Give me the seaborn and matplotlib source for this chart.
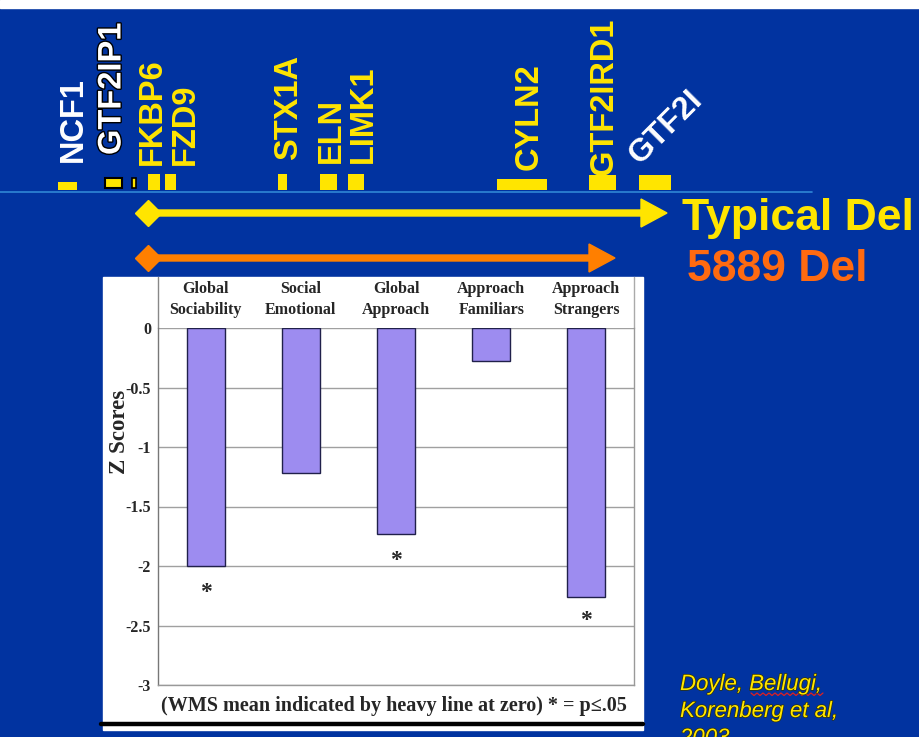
import matplotlib
matplotlib.use("Agg")
import matplotlib.pyplot as plt
import matplotlib.patheffects as pe
from matplotlib.patches import Rectangle
import seaborn as sns
import pandas as pd

# --- bar chart data (WMS z scores) ---
categories = ["Global\nSociability", "Social\nEmotional", "Global\nApproach",
              "Approach\nFamiliars", "Approach\nStrangers"]
z_scores = [-2.00, -1.22, -1.73, -0.28, -2.26]
star_at = [-2.22, None, -1.95, None, -2.46]   # p<=.05 markers
y_ticks = [0, -0.5, -1, -1.5, -2, -2.5, -3]
y_tick_labels = ["0", "-0.5", "-1", "-1.5", "-2", "-2.5", "-3"]

# --- gene map (x in slide pixels) ---
genes = ["NCF1", "GTF2IP1", "FKBP6", "FZD9", "STX1A", "ELN", "LIMK1",
         "CYLN2", "GTF2IRD1", "GTF2I"]
gene_start = [58, 105, 148, 165, 278, 320, 348, 497, 589, 639]
gene_end = [77, 122, 160, 176, 287, 337, 364, 547, 616, 671]
gene_top = [182, 178, 174, 174, 174, 174, 174, 179, 175, 175]
gene_label_x = [73, 112, 152, 185, 289, 331, 363, 529, 604, 645]
gene_label_y = [162, 155, 165, 165, 160, 163, 163, 170, 175, 170]
del_labels = ["Typical Del", "5889 Del"]
del_end = [667, 615]

BLUE = "#0133a0"
YELLOW = "#ffe500"
ORANGE = "#ff7f00"
BAR = "#9d8cf0"

sns.set_theme(style="white")
plt.rcParams["font.family"] = ["Liberation Sans", "DejaVu Sans"]
serif = ["Liberation Serif", "DejaVu Serif"]

fig = plt.figure(figsize=(9.2, 7.37), dpi=100, facecolor=BLUE)

# background / slide layer in pixel coordinates
bg = fig.add_axes([0, 0, 1, 1])
bg.set_xlim(0, 920)
bg.set_ylim(737, 0)
bg.axis("off")
bg.add_patch(Rectangle((0, 0), 920, 8, color="white", zorder=0))

# chromosome line + genes
bg.plot([0, 812], [191.5, 191.5], color="#2f86d6", lw=1.2, zorder=1)
label_cols = ["white", "white"] + [YELLOW] * 7 + ["white"]
for i, g in enumerate(genes):
    if g == "GTF2IP1":
        bg.add_patch(Rectangle((gene_start[i], gene_top[i]), gene_end[i] - gene_start[i],
                               188 - gene_top[i], facecolor=YELLOW, edgecolor="black", lw=1.5, zorder=2))
        bg.add_patch(Rectangle((132, 178), 4, 10, facecolor=YELLOW, edgecolor="black", lw=1.2, zorder=2))
    else:
        bg.add_patch(Rectangle((gene_start[i], gene_top[i]), gene_end[i] - gene_start[i],
                               190 - gene_top[i], color=YELLOW, lw=0, zorder=2))
    if g == "GTF2I":
        bg.text(gene_label_x[i], gene_label_y[i], g, rotation=45, rotation_mode="anchor",
                ha="left", va="bottom", color="white", fontsize=23, fontweight="bold")
    else:
        t = bg.text(gene_label_x[i], gene_label_y[i], g, rotation=90, ha="center", va="bottom",
                    color=label_cols[i], fontsize=23.5, fontweight="bold")
        if g == "GTF2IP1":
            t.set_path_effects([pe.withStroke(linewidth=2, foreground="black")])

# deletion arrows
for y, end, col in [(213, del_end[0], YELLOW), (258, del_end[1], ORANGE)]:
    bg.arrow(148, y, end - 148, 0, width=6, head_width=28, head_length=26,
             length_includes_head=True, color=col, zorder=3)
    bg.plot(148, y, marker="D", ms=13.5, color=col, zorder=4)

bg.text(682, 230, del_labels[0], color=YELLOW, fontsize=32, fontweight="bold")
bg.text(687, 281, del_labels[1], color="#ff6a10", fontsize=32, fontweight="bold")

cite = dict(color=YELLOW, fontsize=16, style="italic",
            path_effects=[pe.withStroke(linewidth=1, foreground="#333300")])
bg.text(680, 690, "Doyle, Bellugi,", **cite)
bg.text(680, 717, "Korenberg et al,", **cite)
bg.text(680, 744, "2003", **cite)
# spell-check squiggle under "Bellugi,"
sx = list(range(751, 826, 3))
bg.plot(sx, [693 + (k % 2) * 2.5 for k in range(len(sx))], color="#e02020", lw=0.9)

# white panel behind the chart
bg.add_patch(Rectangle((103, 277), 540, 453, color="white", zorder=1))
bg.plot([158, 158], [277, 328], color="#888888", lw=1, zorder=2)
bg.plot([634, 634], [277, 328], color="#aaaaaa", lw=1, zorder=2)
bg.plot([101, 643], [724, 724], color="black", lw=3.2, zorder=2)
bg.text(394, 706, "(WMS mean indicated by heavy line at zero) * = p\u2264.05",
        ha="center", va="center", fontsize=14.5, fontweight="bold", family=serif, zorder=3)

# bar chart
ax = fig.add_axes([158 / 920, 52 / 737, 476 / 920, 357 / 737])
df = pd.DataFrame({"scale": categories, "z": z_scores})
sns.barplot(data=df, x="scale", y="z", ax=ax, color=BAR, saturation=1, width=0.4,
            edgecolor="#20204a", linewidth=1.0)
ax.set_xlim(-0.5, 4.5)
ax.set_ylim(-3, 0)
ax.set_facecolor("white")
ax.yaxis.grid(True, color="#a0a0a0", lw=1)
ax.set_axisbelow(True)
for s in ["left", "right", "bottom"]:
    ax.spines[s].set_color("#999999")
    ax.spines[s].set_linewidth(1)
ax.spines["left"].set_color("#777777")
ax.spines["top"].set_visible(False)

ax.xaxis.tick_top()
ax.tick_params(axis="x", length=0, pad=7)
ax.set_xticks(range(len(categories)), categories, fontsize=11.5, fontweight="bold",
              family=serif, linespacing=1.4)
ax.set_yticks(y_ticks, y_tick_labels, fontsize=11.5, fontweight="bold", family=serif)
ax.tick_params(axis="y", length=0, pad=5)
ax.set_xlabel("")
ax.set_ylabel("Z Scores", fontsize=16.5, fontweight="bold", family=serif)
ax.yaxis.set_label_coords(-0.058, 0.71)

for i, v in enumerate(star_at):
    if v is not None:
        ax.text(i, v, "*", ha="center", va="center", fontsize=17, fontweight="bold", family=serif)

fig.savefig("out.png", dpi=100, facecolor=BLUE)
